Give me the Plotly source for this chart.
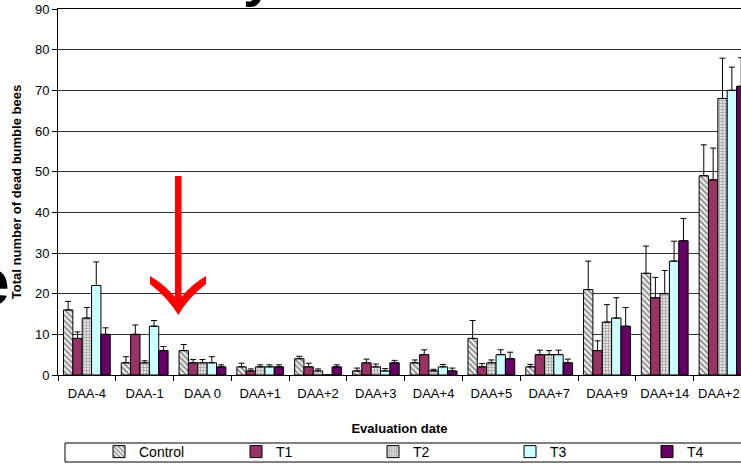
import plotly.graph_objects as go

categories = ["DAA-4", "DAA-1", "DAA 0", "DAA+1", "DAA+2", "DAA+3", "DAA+4",
              "DAA+5", "DAA+7", "DAA+9", "DAA+14", "DAA+21"]

control = [16, 3, 6, 2, 4, 1, 3, 9, 2, 21, 25, 49]
control_err = [2.1, 1.5, 1.5, 0.9, 0.6, 0.7, 0.7, 4.4, 0.6, 7, 6.7, 7.6]
t1 = [9, 10, 3, 1, 2, 3, 5, 2, 5, 6, 19, 48]
t1_err = [1.6, 2.3, 0.8, 0.5, 0.9, 0.9, 1.2, 0.8, 1.1, 2.4, 5, 7.8]
t2 = [14, 3, 3, 2, 1, 2, 1, 3, 5, 13, 20, 68]
t2_err = [2.6, 0.5, 0.8, 0.5, 0.5, 0.7, 0.4, 0.7, 1, 4.3, 5.7, 9.9]
t3 = [22, 12, 3, 2, 0, 1, 2, 5, 5, 14, 28, 70]
t3_err = [5.8, 1.4, 1.5, 0.5, 0, 0.6, 0.6, 1.2, 1.1, 5, 4.9, 5.7]
t4 = [10, 6, 2, 2, 2, 3, 1, 4, 3, 12, 33, 71]
t4_err = [1.6, 1, 0.5, 0.5, 0.5, 0.6, 0.7, 1.6, 0.9, 4.6, 5.5, 7]

W, H = 741, 464
L, T, B = 58, 9, 89
PW, PH = W - L, H - T - B


def px(x):
    return (x - L) / PW


def py(y):
    return (H - B - y) / PH


FONT = "Liberation Sans, Arial, sans-serif"

series = [
    ("Control", control, control_err, dict(color="white", pattern=dict(shape="\\", fgcolor="#2a2a2a", bgcolor="white", size=4, solidity=0.55))),
    ("T1", t1, t1_err, dict(color="#993366")),
    ("T2", t2, t2_err, dict(color="#c8c8c8", pattern=dict(shape="+", fgcolor="#707070", bgcolor="#e4e4e4", size=3, solidity=0.5))),
    ("T3", t3, t3_err, dict(color="#CCFFFF")),
    ("T4", t4, t4_err, dict(color="#660066")),
]

fig = go.Figure()
for name, vals, errs, mk in series:
    marker = dict(line=dict(color="black", width=1))
    marker.update(mk)
    fig.add_trace(go.Bar(
        x=categories, y=vals, name=name, marker=marker,
        error_y=dict(type="data", array=errs, arrayminus=[0] * len(errs), symmetric=False,
                     color="black", thickness=1, width=3),
    ))


def P(x, y):
    return f"{px(x):.5f},{py(y):.5f}"


# red arrow (decoration)
path = ("M " + P(175, 176) + " L " + P(181.5, 176) + " L " + P(181.5, 297) +
        " Q " + P(192, 284) + " " + P(206, 276) + " L " + P(206, 284) +
        " Q " + P(188, 298) + " " + P(178.3, 315) + " Q " + P(168, 298) + " " + P(150, 284) +
        " L " + P(150, 276) + " Q " + P(164, 284) + " " + P(175, 297) + " Z")
fig.add_shape(type="path", path=path, xref="paper", yref="paper",
              fillcolor="#ff0000", line=dict(width=0), layer="above")

# legend box
fig.add_shape(type="rect", xref="paper", yref="paper",
              x0=px(65), x1=px(760), y0=py(443), y1=py(462),
              line=dict(color="black", width=1), fillcolor="rgba(0,0,0,0)")

# slide title fragments
fig.add_annotation(text="<b>e</b>", xref="paper", yref="paper", x=px(12), y=py(282),
                   xanchor="right", yanchor="middle", showarrow=False,
                   font=dict(family=FONT, size=66, color="black"))
fig.add_annotation(text="<b>y</b>", xref="paper", yref="paper", x=px(258), y=py(9),
                   xanchor="center", yanchor="bottom", showarrow=False,
                   font=dict(family=FONT, size=56, color="black"))

fig.update_layout(
    width=W, height=H,
    margin=dict(l=L, r=0, t=T, b=B, autoexpand=False),
    paper_bgcolor="white", plot_bgcolor="white",
    barmode="group", bargap=0.19, bargroupgap=0,
    font=dict(family=FONT, size=13, color="black"),
    showlegend=True,
    legend=dict(orientation="h", x=px(99), y=py(452), xanchor="left", yanchor="middle",
                entrywidth=92, entrywidthmode="pixels", bgcolor="rgba(0,0,0,0)",
                font=dict(size=14), itemwidth=30),
    xaxis=dict(range=[-0.5, 11.32], showline=True, linecolor="black", linewidth=1, mirror=True,
               ticks="outside", tickson="boundaries", ticklen=5, tickcolor="black",
               showgrid=False, tickfont=dict(size=13), tickangle=0, automargin=False,
               ticklabelstandoff=6,
               title=dict(text="Evaluation date", font=dict(size=13, weight="bold"), standoff=24)),
    yaxis=dict(range=[0, 90], dtick=10, showline=True, linecolor="black", linewidth=1,
               ticks="outside", ticklen=5, tickcolor="black", showgrid=True, automargin=False,
               gridcolor="#333333", gridwidth=1, zeroline=False, tickfont=dict(size=13),
               title=dict(text="Total number of dead bumble bees", font=dict(size=13, weight="bold"), standoff=10)),
)

fig.write_html("out.html", config={"displayModeBar": False},
               post_script="document.body.style.margin='0';")
